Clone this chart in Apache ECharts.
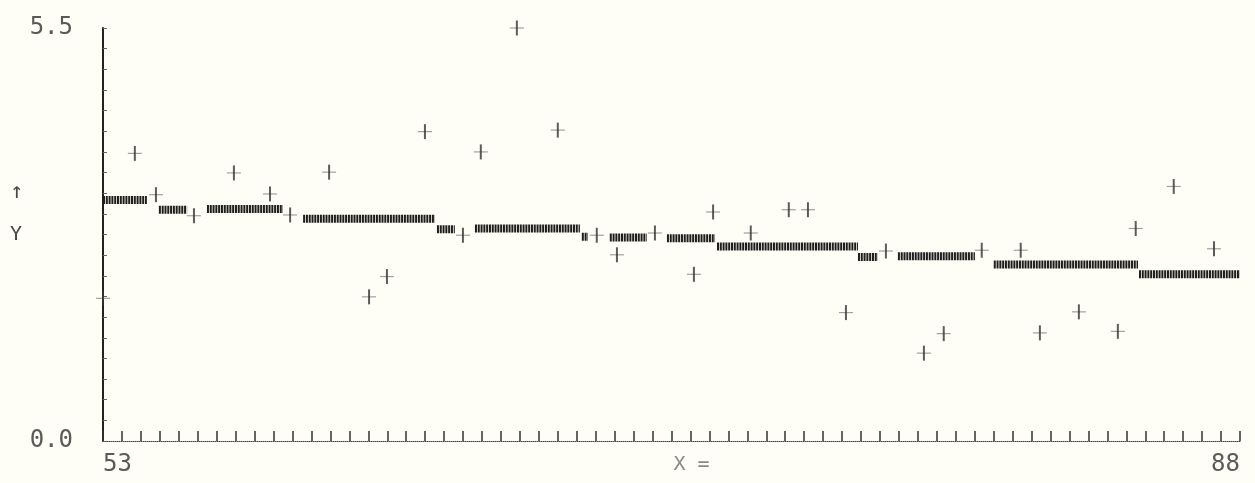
<!DOCTYPE html>
<html>
<head>
<meta charset="utf-8">
<script src="https://cdn.jsdelivr.net/npm/echarts@6/dist/echarts.min.js"></script>
<style>
html,body{margin:0;padding:0;background:#fefef6;}
#c{width:1255px;height:483px;}
</style>
</head>
<body>
<div id="c"></div>
<script>
// Individual observations (+ markers)
const pointX = [53.0, 53.98, 54.63, 55.80, 57.03, 58.14, 58.76, 59.96, 61.19, 61.74,
  62.91, 64.08, 64.63, 65.74, 67.00, 68.20, 68.82, 69.99, 71.19, 71.78,
  72.94, 74.11, 74.70, 75.87, 77.10, 78.27, 78.88, 80.05, 81.25, 81.84,
  83.04, 84.24, 84.79, 85.96, 87.20];
const pointY = [1.90, 3.83, 3.28, 3.00, 3.57, 3.29, 3.01, 3.58, 1.92, 2.19,
  4.12, 2.74, 3.85, 5.50, 4.14, 2.74, 2.48, 2.77, 2.22, 3.05,
  2.77, 3.08, 3.08, 1.71, 2.53, 1.17, 1.43, 2.54, 2.54, 1.44,
  1.72, 1.46, 2.83, 3.39, 2.56];

// Step levels (hatched horizontal segments)
const segStart = [53.0, 54.72, 56.20, 59.16, 63.28, 64.45, 67.74, 68.60, 70.36, 71.90, 76.24, 77.47, 80.42, 84.89];
const segEnd   = [54.35, 55.59, 58.54, 63.22, 63.83, 67.68, 67.93, 69.74, 71.84, 76.24, 76.85, 79.84, 84.86, 88.0];
const segValue = [3.21, 3.08, 3.09, 2.96, 2.82, 2.83, 2.72, 2.71, 2.70, 2.59, 2.45, 2.46, 2.35, 2.22];

// Axis tick labels
const xTickLabels = [53, 88];
const yTickLabels = [0.0, 5.5];
const xMin = 53, xMax = 88, yMin = 0, yMax = 5.5;
const xMinorCount = 60, yMinorCount = 20;

const xTicks = [];
for (let i = 0; i <= xMinorCount; i++) xTicks.push(xMin + (xMax - xMin) * i / xMinorCount);
const yTicks = [];
for (let i = 0; i <= yMinorCount; i++) yTicks.push(yMin + (yMax - yMin) * i / yMinorCount);

const font = 'DejaVu Sans Mono';
const txtColor = '#5a5a5a';

const pts = pointX.map((x, i) => [x, pointY[i]]);

const segSeries = segStart.map((s, i) => ({
  type: 'line',
  data: [[s, segValue[i]], [segEnd[i], segValue[i]]],
  showSymbol: false,
  silent: true,
  animation: false,
  lineStyle: { color: '#1e1e1e', width: 8, type: [2, 0.8], cap: 'butt' },
  z: 2
}));

const chart = echarts.init(document.getElementById('c'));
chart.setOption({
  backgroundColor: '#fefef6',
  animation: false,
  grid: { left: 103, right: 15, top: 28, bottom: 42, containLabel: false, outerBoundsMode: 'none' },
  graphic: [
    { type: 'text', left: 10, top: 181, style: { text: '↑', font: '22px "DejaVu Sans Mono"', fill: '#4a4a4a' } },
    { type: 'text', left: 10, top: 225, style: { text: 'Y', font: '20px "DejaVu Sans Mono"', fill: '#4a4a4a' } }
  ],
  xAxis: {
    type: 'value', min: xMin, max: xMax,
    name: 'X =',
    nameLocation: 'middle',
    nameGap: 14,
    nameMoveOverlap: false,
    nameTextStyle: { fontFamily: font, fontSize: 20, color: '#8a8a8a', padding: [0, 0, 0, 40] },
    splitLine: { show: false },
    axisLine: { show: true, onZero: false, lineStyle: { color: '#444', width: 1, type: 'dotted' } },
    axisTick: { show: true, inside: true, length: 10, customValues: xTicks, lineStyle: { color: '#333', width: 1.5 } },
    axisLabel: {
      customValues: xTickLabels, margin: 12,
      fontFamily: font, fontSize: 24, color: txtColor,
      alignMinLabel: 'left', alignMaxLabel: 'right',
      formatter: v => String(Math.round(v))
    }
  },
  yAxis: {
    type: 'value', min: yMin, max: yMax,
    splitLine: { show: false },
    axisLine: { show: true, onZero: false, lineStyle: { color: '#222', width: 2 } },
    axisTick: { show: true, inside: true, length: 4, customValues: yTicks, lineStyle: { color: '#666', width: 1 } },
    axisLabel: {
      customValues: yTickLabels, margin: 30,
      fontFamily: font, fontSize: 24, color: txtColor,
      formatter: v => v.toFixed(1)
    }
  },
  series: segSeries.concat([
    {
      type: 'scatter', data: pts, symbol: 'rect', symbolSize: [14, 1.2],
      itemStyle: { color: '#8a8a8a' }, silent: true, z: 3
    },
    {
      type: 'scatter', data: pts, symbol: 'rect', symbolSize: [2, 15],
      itemStyle: { color: '#333' }, silent: true, z: 4
    }
  ])
});
</script>
</body>
</html>
